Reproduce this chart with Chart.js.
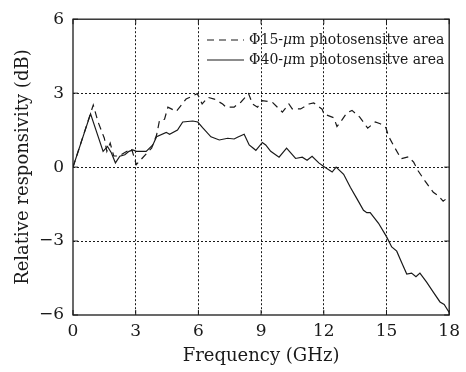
<!DOCTYPE html>
<html>
<head>
<meta charset="utf-8">
<script src="https://cdn.jsdelivr.net/npm/chart.js@4/dist/chart.umd.min.js"></script>
<style>
  body { margin: 0; background: #fff; }
  canvas { display: block; }
</style>
</head>
<body>
<canvas id="chart" width="466" height="372"></canvas>
<script>
// frequency (GHz) and relative responsivity (dB)
var freq15 = [0, 0.97, 1.2, 1.5, 1.62, 1.78, 1.95, 2.2, 2.5, 2.8, 3.03, 3.3, 3.76, 4.0, 4.14, 4.38, 4.54, 4.94, 5.41, 5.95,
  6.18, 6.46, 6.76, 7.16, 7.32, 7.71, 7.87, 8.03, 8.4, 8.59, 8.83, 9.06, 9.54, 9.78, 10.02, 10.33, 10.49, 10.89, 11.29, 11.52,
  11.92, 12.0, 12.48, 12.63, 12.8, 13.1, 13.35, 13.72, 14.1, 14.46, 14.7, 14.97, 15.1, 15.36, 15.7, 16.05, 16.3, 16.52, 16.84,
  17.24, 17.48, 17.71, 17.87, 17.97];
var resp15 = [0, 2.52, 1.83, 1.17, 0.64, 0.97, 0.45, 0.45, 0.6, 0.75, 0.1, 0.35, 0.77, 1.3, 1.9, 1.94, 2.43, 2.26, 2.76, 2.98,
  2.56, 2.83, 2.76, 2.56, 2.43, 2.43, 2.56, 2.63, 2.98, 2.56, 2.43, 2.7, 2.63, 2.43, 2.23, 2.56, 2.36, 2.36, 2.56, 2.6,
  2.35, 2.16, 2.0, 1.65, 1.83, 2.2, 2.3, 2.03, 1.58, 1.83, 1.76, 1.6, 1.25, 0.84, 0.34, 0.42, 0.2, -0.16, -0.56,
  -1.02, -1.16, -1.38, -1.28, -1.2];

var freq40 = [0, 0.84, 1.44, 1.65, 1.84, 2.03, 2.24, 2.48, 2.68, 2.87, 3.03, 3.5, 3.82, 4.0, 4.46, 4.62, 5.0, 5.25, 5.73, 5.97,
  6.2, 6.6, 7.0, 7.4, 7.71, 7.87, 8.19, 8.43, 8.75, 9.06, 9.22, 9.46, 9.86, 10.22, 10.65, 10.97, 11.2, 11.44, 11.76, 12.0,
  12.4, 12.59, 12.95, 13.27, 13.59, 13.9, 14.06, 14.22, 14.62, 15.0, 15.25, 15.49, 15.73, 15.97, 16.2, 16.41, 16.6, 16.92,
  17.24, 17.56, 17.76, 18.0];
var resp40 = [0, 2.16, 0.64, 0.84, 0.57, 0.17, 0.44, 0.5, 0.64, 0.7, 0.64, 0.64, 0.9, 1.23, 1.41, 1.33, 1.5, 1.83, 1.87, 1.83,
  1.6, 1.23, 1.1, 1.17, 1.14, 1.21, 1.33, 0.9, 0.68, 1.0, 0.9, 0.64, 0.4, 0.77, 0.35, 0.4, 0.28, 0.44, 0.17, 0.02,
  -0.2, 0, -0.29, -0.82, -1.29, -1.75, -1.85, -1.85, -2.28, -2.82, -3.24, -3.41, -3.88, -4.34, -4.3, -4.45, -4.3, -4.67,
  -5.07, -5.47, -5.57, -5.9];

var xTicks = [0, 3, 6, 9, 12, 15, 18];
var yTicks = [-6, -3, 0, 3, 6];
var seriesNames = [["\u03a615-", "\u03bc", "m photosensitve area"], ["\u03a640-", "\u03bc", "m photosensitve area"]];

var serif = "'DejaVu Serif', 'Liberation Serif', serif";
var ink = '#1a1a1a';

function pairs(xs, ys) {
  var out = [];
  for (var i = 0; i < xs.length; i++) out.push({ x: xs[i], y: ys[i] });
  return out;
}

// frame, inward tick marks and the in-plot legend
var framePlugin = {
  id: 'frame',
  afterDatasetsDraw: function(chart) {
    var ctx = chart.ctx, a = chart.chartArea;
    var xs = chart.scales.x, ys = chart.scales.y;
    ctx.save();
    ctx.strokeStyle = ink;
    ctx.lineWidth = 1.3;
    ctx.strokeRect(a.left, a.top, a.right - a.left, a.bottom - a.top);
    ctx.lineWidth = 1;
    xTicks.forEach(function(v) {
      var px = xs.getPixelForValue(v);
      ctx.beginPath(); ctx.moveTo(px, a.bottom); ctx.lineTo(px, a.bottom - 5); ctx.stroke();
      ctx.beginPath(); ctx.moveTo(px, a.top); ctx.lineTo(px, a.top + 5); ctx.stroke();
    });
    yTicks.forEach(function(v) {
      var py = ys.getPixelForValue(v);
      ctx.beginPath(); ctx.moveTo(a.left, py); ctx.lineTo(a.left + 5, py); ctx.stroke();
      ctx.beginPath(); ctx.moveTo(a.right, py); ctx.lineTo(a.right - 5, py); ctx.stroke();
    });

    // legend
    var lx = 207, ly = 40, row = 20;
    chart.data.datasets.forEach(function(ds, i) {
      var y = ly + i * row;
      ctx.strokeStyle = ds.borderColor;
      ctx.lineWidth = ds.borderWidth;
      ctx.setLineDash(ds.borderDash || []);
      ctx.beginPath(); ctx.moveTo(lx, y); ctx.lineTo(lx + 37, y); ctx.stroke();
      ctx.setLineDash([]);
      ctx.fillStyle = ink;
      ctx.textBaseline = 'middle';
      var parts = seriesNames[i], tx = lx + 42;
      parts.forEach(function(p, k) {
        ctx.font = (k === 1 ? 'italic ' : '') + '14px ' + serif;
        ctx.fillText(p, tx, y);
        tx += ctx.measureText(p).width;
      });
    });
    ctx.restore();
  }
};

var minus = function(v) { return String(v).replace('-', '\u2212'); };

new Chart(document.getElementById('chart'), {
  type: 'line',
  data: {
    datasets: [{
      label: 'Phi15',
      data: pairs(freq15, resp15),
      borderColor: ink,
      borderWidth: 1.2,
      borderDash: [7, 5],
      pointRadius: 0,
      tension: 0,
      fill: false
    }, {
      label: 'Phi40',
      data: pairs(freq40, resp40),
      borderColor: ink,
      borderWidth: 1.2,
      pointRadius: 0,
      tension: 0,
      fill: false
    }]
  },
  options: {
    responsive: false,
    animation: false,
    events: [],
    layout: { padding: { top: 14, right: 15, left: 0, bottom: 0 } },
    plugins: { legend: { display: false }, tooltip: { enabled: false } },
    scales: {
      x: {
        type: 'linear',
        min: 0, max: 18,
        afterFit: function(s) { s.height = 57; },
        afterBuildTicks: function(s) { s.ticks = xTicks.map(function(v) { return { value: v }; }); },
        grid: {
          drawTicks: false,
          color: function(c) { return (c.tick.value === 0 || c.tick.value === 18) ? 'rgba(0,0,0,0)' : ink; }
        },
        border: { display: false, dash: [2, 2] },
        ticks: { color: ink, padding: 6, maxRotation: 0, font: { family: serif, size: 17 }, callback: minus },
        title: { display: true, text: 'Frequency (GHz)', color: ink, font: { family: serif, size: 18 }, padding: { top: 0, bottom: 5 } }
      },
      y: {
        type: 'linear',
        min: -6, max: 6,
        afterFit: function(s) { s.width = 73; },
        afterBuildTicks: function(s) { s.ticks = yTicks.map(function(v) { return { value: v }; }); },
        grid: {
          drawTicks: false,
          color: function(c) { return (c.tick.value === -6 || c.tick.value === 6) ? 'rgba(0,0,0,0)' : ink; }
        },
        border: { display: false, dash: [2, 2] },
        ticks: { color: ink, padding: 9, font: { family: serif, size: 17 }, callback: minus },
        title: { display: true, text: 'Relative responsivity (dB)', color: ink, font: { family: serif, size: 18 }, padding: { top: 13, bottom: 0 } }
      }
    }
  },
  plugins: [framePlugin]
});
</script>
</body>
</html>
